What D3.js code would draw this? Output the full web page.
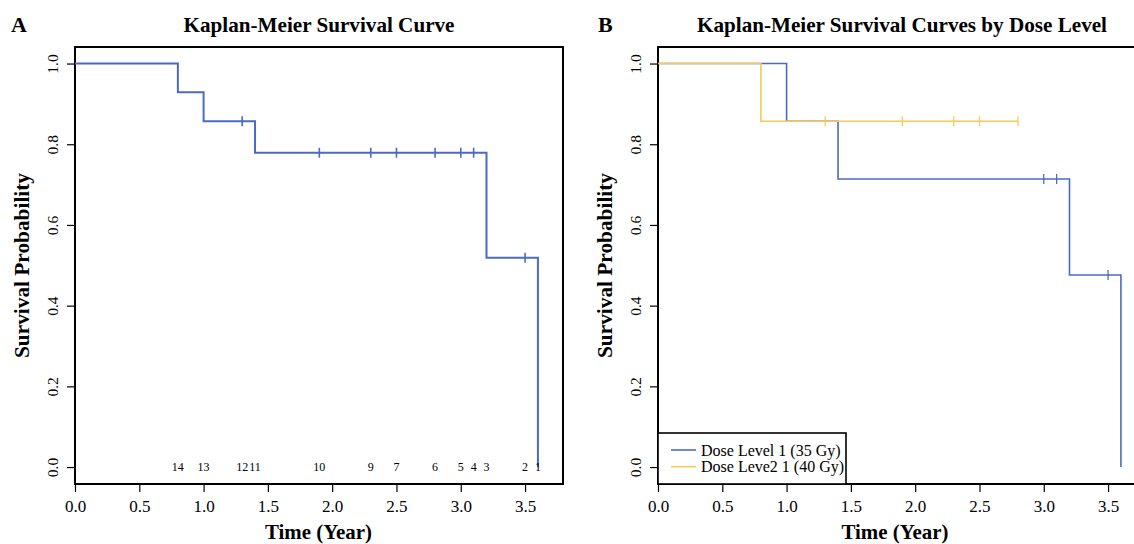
<!DOCTYPE html>
<html>
<head>
<meta charset="utf-8">
<script src="https://cdn.jsdelivr.net/npm/d3@7"></script>
<style>
  body { margin: 0; background: #fff; }
  svg { display: block; font-family: "Liberation Serif", "Times New Roman", serif; }
</style>
</head>
<body>
<svg id="chart" width="1134" height="544"></svg>
<script>
// Panel A: overall KM curve
const timesA = [0, 0.8, 1.0, 1.4, 3.2, 3.6];
const survA = [1.0, 0.929, 0.857, 0.779, 0.519, 0.0];
const censorA = [1.3, 1.9, 2.3, 2.5, 2.8, 3.0, 3.1, 3.5];
const riskTimes = [0.8, 1.0, 1.3, 1.4, 1.9, 2.3, 2.5, 2.8, 3.0, 3.1, 3.2, 3.5, 3.6];
const riskN = [14, 13, 12, 11, 10, 9, 7, 6, 5, 4, 3, 2, 1];

// Panel B: by dose level
const timesB1 = [0, 1.0, 1.4, 3.2, 3.6];
const survB1 = [1.0, 0.857, 0.714, 0.476, 0.0];
const censorB1 = [3.0, 3.1, 3.5];
const timesB2 = [0, 0.8, 2.8];
const survB2 = [1.0, 0.857, 0.857];
const censorB2 = [1.3, 1.9, 2.3, 2.5, 2.8];
const legendLabels = ['Dose Level 1 (35 Gy)', 'Dose Leve2 1 (40 Gy)'];

const xTicks = [0, 0.5, 1, 1.5, 2, 2.5, 3, 3.5];
const yTicks = [0, 0.2, 0.4, 0.6, 0.8, 1.0];

const blue = '#4a6bc3';
const yellow = '#f7c95a';

const svg = d3.select('#chart');

// step value at time t (right-continuous)
function survAt(times, surv, t) {
	let v = surv[0];
	for (let i = 0; i < times.length; i++) {
		if (times[i] <= t) v = surv[i];
	}
	return v;
}

function panel(opts) {
	const x = d3.scaleLinear().domain([0, 3.795]).range([opts.left, opts.right]);
	const y = d3.scaleLinear().domain([-0.042, 1.041]).range([opts.bottom, opts.top]);
	const g = svg.append('g');

	// axes
	const xa = g.append('g')
		.attr('transform', `translate(0,${opts.bottom})`)
		.call(d3.axisBottom(x).tickValues(xTicks).tickFormat(d3.format('.1f')).tickSize(8).tickPadding(8));
	xa.select('.domain').remove();
	xa.selectAll('line').attr('stroke', '#000').attr('stroke-width', 1.2);
	xa.selectAll('text').attr('font-size', 17).attr('fill', '#000')
		.attr('font-family', '"Liberation Serif", serif');

	const ya = g.append('g')
		.attr('transform', `translate(${opts.left},0)`)
		.call(d3.axisLeft(y).tickValues(yTicks).tickFormat(d3.format('.1f')).tickSize(8).tickPadding(0));
	ya.select('.domain').remove();
	ya.selectAll('line').attr('stroke', '#000').attr('stroke-width', 1.2);
	ya.selectAll('text')
		.attr('font-size', 15.5).attr('fill', '#000')
		.attr('font-family', '"Liberation Serif", serif')
		.attr('text-anchor', 'middle')
		.attr('dy', null)
		.attr('x', null)
		.attr('transform', 'translate(-17,0) rotate(-90)');

	// box
	g.append('rect')
		.attr('x', opts.left).attr('y', opts.top)
		.attr('width', opts.right - opts.left).attr('height', opts.bottom - opts.top)
		.attr('fill', 'none').attr('stroke', '#000').attr('stroke-width', 2);

	// titles
	g.append('text')
		.attr('x', opts.titleX).attr('y', 32)
		.attr('text-anchor', 'middle').attr('font-size', 21).attr('font-weight', 'bold')
		.attr('textLength', opts.titleLen).attr('lengthAdjust', 'spacingAndGlyphs')
		.text(opts.title);
	g.append('text')
		.attr('x', opts.tag[0]).attr('y', opts.tag[1])
		.attr('font-size', 22).attr('font-weight', 'bold')
		.text(opts.tagText);
	g.append('text')
		.attr('x', opts.xLabelX).attr('y', 539)
		.attr('text-anchor', 'middle').attr('font-size', 21).attr('font-weight', 'bold')
		.attr('textLength', 107).attr('lengthAdjust', 'spacingAndGlyphs')
		.text('Time (Year)');
	g.append('text')
		.attr('transform', `translate(${opts.left - 46},${(opts.top + opts.bottom) / 2}) rotate(-90)`)
		.attr('text-anchor', 'middle').attr('font-size', 21).attr('font-weight', 'bold')
		.attr('textLength', 185).attr('lengthAdjust', 'spacingAndGlyphs')
		.text('Survival Probability');

	const line = d3.line().x(d => x(d[0])).y(d => y(d[1])).curve(d3.curveStepAfter);

	opts.series.forEach(s => {
		const pts = s.times.map((t, i) => [t, s.surv[i]]);
		g.append('path').datum(pts)
			.attr('d', line).attr('fill', 'none')
			.attr('stroke', s.color).attr('stroke-width', s.width);
		g.selectAll(null).data(s.censor).enter().append('line')
			.attr('x1', d => x(d)).attr('x2', d => x(d))
			.attr('y1', d => y(survAt(s.times, s.surv, d)) - 5)
			.attr('y2', d => y(survAt(s.times, s.surv, d)) + 5)
			.attr('stroke', s.color).attr('stroke-width', s.width * 0.8);
	});

	return { g, x, y };
}

const A = panel({
	left: 75, right: 563, top: 47, bottom: 484,
	title: 'Kaplan-Meier Survival Curve', titleX: 319, titleLen: 271,
	tagText: 'A', tag: [11, 32],
	xLabelX: 318.5,
	series: [{ times: timesA, surv: survA, censor: censorA, color: blue, width: 2 }]
});

// numbers at risk
A.g.selectAll(null).data(riskTimes).enter().append('text')
	.attr('x', d => A.x(d)).attr('y', A.y(0) + 4)
	.attr('text-anchor', 'middle').attr('font-size', 12)
	.text((d, i) => riskN[i]);

const B = panel({
	left: 658, right: 1146, top: 47, bottom: 484,
	title: 'Kaplan-Meier Survival Curves by Dose Level', titleX: 902, titleLen: 410,
	tagText: 'B', tag: [598, 32],
	xLabelX: 895,
	series: [
		{ times: timesB1, surv: survB1, censor: censorB1, color: blue, width: 1.6 },
		{ times: timesB2, surv: survB2, censor: censorB2, color: yellow, width: 1.6 }
	]
});

// legend
const lg = B.g.append('g');
lg.append('rect')
	.attr('x', 658).attr('y', 433).attr('width', 188).attr('height', 51)
	.attr('fill', '#fff').attr('stroke', '#000').attr('stroke-width', 1.6);
legendLabels.forEach((lab, i) => {
	const yy = 450 + i * 16.7;
	lg.append('line').attr('x1', 671).attr('x2', 696).attr('y1', yy).attr('y2', yy)
		.attr('stroke', i === 0 ? blue : yellow).attr('stroke-width', 1.6);
	lg.append('text').attr('x', 701).attr('y', yy + 5.5)
		.attr('font-size', 16).text(lab);
});
</script>
</body>
</html>
